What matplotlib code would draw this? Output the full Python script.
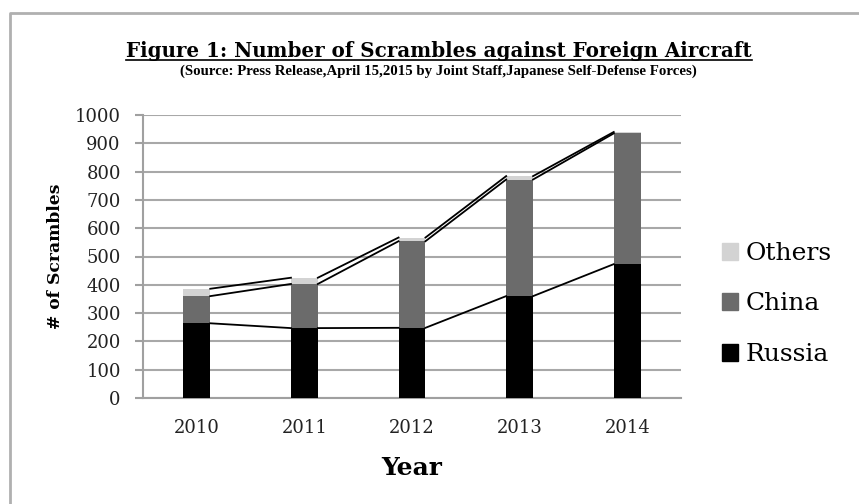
import numpy as np
import matplotlib
matplotlib.use("Agg")
import matplotlib.pyplot as plt
import matplotlib.patches as mpatches
from matplotlib.lines import Line2D

# data
years = ["2010", "2011", "2012", "2013", "2014"]
russia = [264, 247, 248, 360, 473]
china = [96, 156, 306, 412, 462]
others = [26, 22, 13, 12, 5]
series_names = ["Russia", "China", "Others"]
series_colors = ["#000000", "#6b6b6b", "#d3d3d3"]

plt.rcParams['font.family'] = ['DejaVu Serif']

fig = plt.figure(figsize=(8.59, 5.04), dpi=100)
ax = fig.add_axes([143/859, 1-398/504, (681-143)/859, (398-115)/504])

x = np.arange(len(years))
w = 0.25
stacks = [np.array(russia), np.array(china), np.array(others)]
bottom = np.zeros(len(years))
tops = []
for vals, col in zip(stacks, series_colors):
    ax.bar(x, vals, w, bottom=bottom, color=col, zorder=3)
    bottom = bottom + vals
    tops.append(bottom.copy())

# series lines between bars (Excel style)
for cum in tops:
    for i in range(len(years)-1):
        ax.plot([x[i]+w/2, x[i+1]-w/2], [cum[i], cum[i+1]], color="black", lw=1.3, zorder=4)

ax.set_xlim(-0.5, len(years)-0.5)
ax.set_ylim(0, 1000)
ax.set_yticks(np.arange(0, 1001, 100))
ax.set_xticks(x)
ax.set_xticklabels(years)
ax.yaxis.grid(True, color="#a8a8a8", lw=1.5, zorder=0)
ax.set_axisbelow(True)
for s in ["top", "right"]:
    ax.spines[s].set_visible(False)
ax.spines["left"].set_color("#a0a0a0")
ax.spines["bottom"].set_color("#a0a0a0")
ax.spines["left"].set_linewidth(1.5)
ax.spines["bottom"].set_linewidth(1.5)
ax.tick_params(axis="y", length=6, width=1.5, color="#a0a0a0", labelsize=13, labelcolor="#222222", pad=10)
ax.tick_params(axis="x", length=0, labelsize=13, labelcolor="#222222", pad=15)

ax.set_ylabel("# of Scrambles", fontsize=12.3, fontweight="bold", labelpad=8)
ax.set_xlabel("Year", fontsize=18, fontweight="bold", labelpad=14)

handles = [mpatches.Patch(color=c, label=n) for n, c in zip(series_names, series_colors)][::-1]
fig.legend(handles=handles, loc="center left", bbox_to_anchor=(722/859, 1-304/504),
           frameon=False, fontsize=18, handlelength=0.65, handleheight=0.65,
           handletextpad=0.3, labelspacing=1.1, borderpad=0, borderaxespad=0)

title = fig.text(439/859, 1-51/504, "Figure 1: Number of Scrambles against Foreign Aircraft",
                 ha="center", va="center", fontsize=14.3, fontweight="bold")
fig.text(438/859, 1-71/504,
         "(Source: Press Release,April 15,2015 by Joint Staff,Japanese Self-Defense Forces)",
         ha="center", va="center", fontsize=10.7, fontweight="bold", family="Liberation Serif")

# underline the title
fig.canvas.draw()
bb = title.get_window_extent(fig.canvas.get_renderer())
fig.add_artist(Line2D([bb.x0/fig.bbox.width, bb.x1/fig.bbox.width],
                      [1-60/504, 1-60/504], transform=fig.transFigure, color="black", lw=1.2))

# border of the figure (only left and top visible in the reference)
fig.add_artist(Line2D([10/859, 10/859, 1], [0, 1-13/504, 1-13/504],
                      transform=fig.transFigure, color="#b0b0b0", lw=2))

fig.savefig("out.png", dpi=100)
